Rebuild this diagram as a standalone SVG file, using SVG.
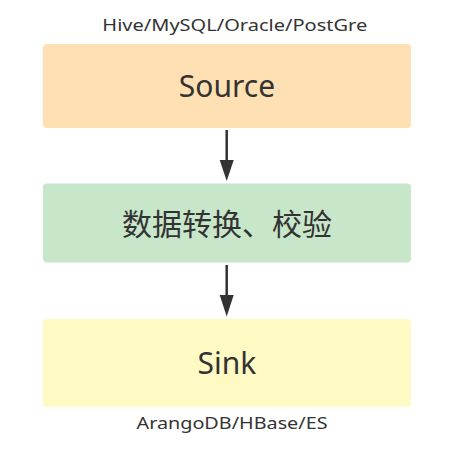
<svg xmlns="http://www.w3.org/2000/svg" width="452" height="462" viewBox="0 0 452 462">
<style>
text{font-family:"Noto Sans","Noto Sans CJK SC",sans-serif;fill:#333;text-anchor:middle}
.lbl{font-size:17px}
.big{font-size:30px}
.conn{stroke:#333;stroke-width:2.5;fill:none}
</style>
<rect width="452" height="462" fill="#fff"/>
<g id="source">
<text class="lbl" x="234.8" y="30.5" textLength="265" lengthAdjust="spacingAndGlyphs">Hive/MySQL/Oracle/PostGre</text>
<rect x="43" y="44" width="368" height="84" rx="4" fill="#FFE0B2"/>
<text class="big" x="227" y="97">Source</text>
</g>
<g id="transform">
<rect x="43" y="183.5" width="368" height="79" rx="4" fill="#C8E6C9"/>
<text class="big" x="227" y="235">数据转换、校验</text>
</g>
<g id="sink">
<rect x="43" y="319" width="368" height="88" rx="4" fill="#FFF9C4"/>
<text class="big" x="227" y="373.5">Sink</text>
<text class="lbl" x="232" y="428.5" textLength="191" lengthAdjust="spacingAndGlyphs">ArangoDB/HBase/ES</text>
</g>
<g id="connectors">
<path class="conn" d="M226.7,130 V162" />
<path d="M219.7,160 L233.7,160 L226.7,181 Z" fill="#333"/>
<path class="conn" d="M226.7,265 V297" />
<path d="M219.7,295 L233.7,295 L226.7,316.5 Z" fill="#333"/>
</g>
</svg>
